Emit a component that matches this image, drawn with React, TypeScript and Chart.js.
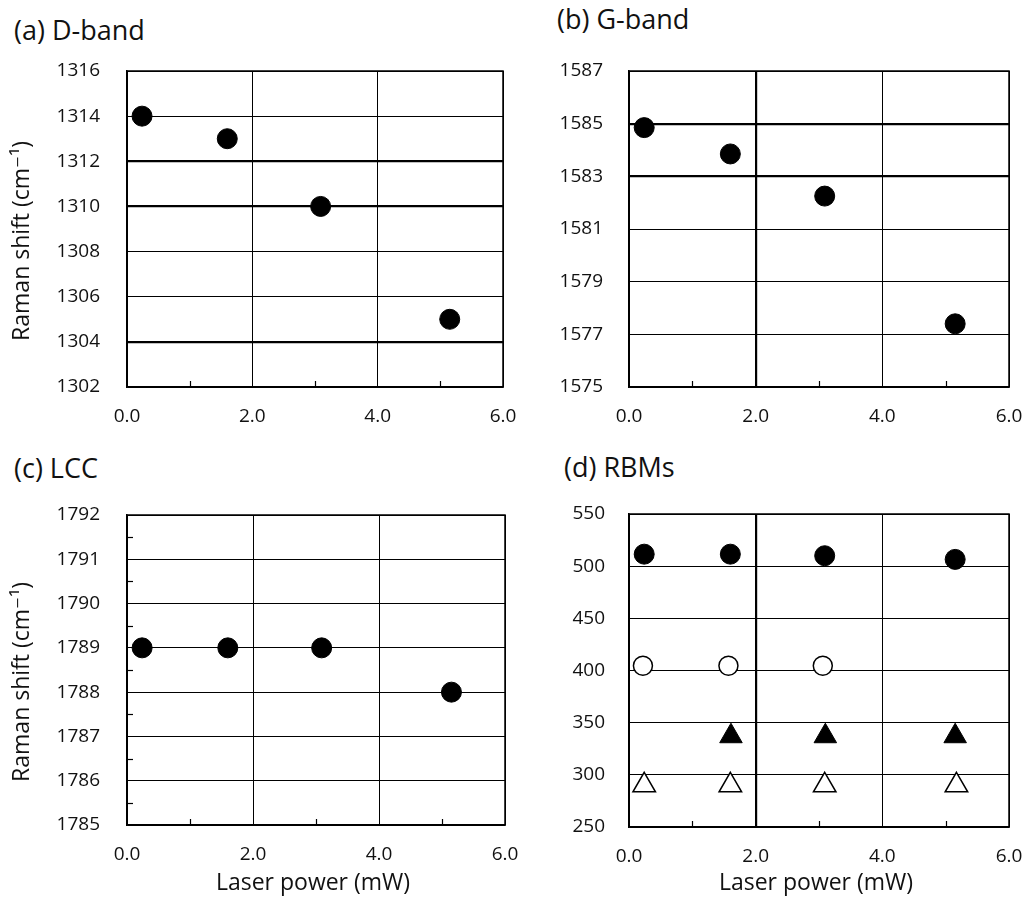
import React, { useEffect, useRef } from "react";
import { Chart, registerables } from "chart.js";

Chart.register(...registerables);

// ---------- data ----------
const laserPower = [0.24, 1.6, 3.09, 5.15];
const dBandShift = [1314, 1313, 1310, 1305];
const gBandShift = [1584.85, 1583.85, 1582.25, 1577.4];
const lccShift = [1789, 1789, 1789, 1788];

const rbmFilledCirclePower = [0.24, 1.6, 3.09, 5.15];
const rbmFilledCircle = [511.5, 511.5, 510, 506.5];
const rbmOpenCirclePower = [0.22, 1.57, 3.06];
const rbmOpenCircle = [404.5, 404.5, 404.5];
const rbmFilledTrianglePower = [1.61, 3.1, 5.15];
const rbmFilledTriangle = [337, 337, 337];
const rbmOpenTrianglePower = [0.24, 1.6, 3.09, 5.17];
const rbmOpenTriangle = [290, 290, 290, 290];

const xMinorTicks = [1, 3, 5];
const lccMinorTicks = [1785.5, 1786.5, 1787.5, 1788.5, 1789.5, 1790.5, 1791.5];

const panelTitles = ["(a) D-band", "(b) G-band", "(c) LCC", "(d) RBMs"];
const yAxisTitle = "Raman shift (cm\u207B\u00B9)\u00A0\u00A0\u00A0\u00A0";
const xAxisTitle = "Laser power (mW)\u00A0";

const FONT = "'Open Sans', 'DejaVu Sans', sans-serif";
const INK = "#111";

const pts = (xs: number[], ys: number[]) => ys.map((y, i) => ({ x: xs[i], y }));

const framePlugin = {
  id: "frame",
  afterDraw(chart: any, _args: any, opts: any) {
    const { ctx, chartArea } = chart;
    const { left, right, top, bottom } = chartArea;
    ctx.save();
    ctx.strokeStyle = "#000";
    ctx.lineWidth = 1.5;
    ctx.strokeRect(left, top, right - left, bottom - top);
    ctx.lineWidth = 1.2;
    const xs = chart.scales.x;
    const ys = chart.scales.y;
    (opts.minorX || []).forEach((v: number) => {
      const px = Math.round(xs.getPixelForValue(v)) + 0.5;
      ctx.beginPath();
      ctx.moveTo(px, bottom);
      ctx.lineTo(px, bottom - 6);
      ctx.stroke();
    });
    (opts.minorY || []).forEach((v: number) => {
      const py = Math.round(ys.getPixelForValue(v)) + 0.5;
      ctx.beginPath();
      ctx.moveTo(left, py);
      ctx.lineTo(left + 6, py);
      ctx.stroke();
    });
    ctx.restore();
  },
};

type PanelCfg = {
  datasets: any[];
  yMin: number;
  yMax: number;
  yStep: number;
  yWidth: number;
  yPad: number;
  yTitle?: string;
  xTitle?: string;
  xHeight: number;
  padding: { left: number; top: number; right: number; bottom: number };
  thickX: number[];
  thickY: number[];
  minorY?: number[];
};

function buildConfig(c: PanelCfg): any {
  return {
    type: "scatter",
    data: { datasets: c.datasets },
    plugins: [framePlugin],
    options: {
      responsive: false,
      animation: false,
      events: [],
      layout: { padding: c.padding },
      plugins: {
        legend: { display: false },
        tooltip: { enabled: false },
        frame: { minorX: xMinorTicks, minorY: c.minorY || [] },
      },
      scales: {
        x: {
          type: "linear",
          min: 0,
          max: 6,
          afterFit: (s: any) => {
            s.height = c.xHeight;
          },
          ticks: {
            stepSize: 2,
            autoSkip: false,
            maxRotation: 0,
            padding: 0,
            color: INK,
            font: { family: FONT, size: 19 },
            callback: (v: any) => Number(v).toFixed(1),
          },
          grid: {
            color: "#000",
            drawTicks: true,
            tickLength: 18,
            tickColor: "rgba(0,0,0,0)",
            lineWidth: (ctx: any) => (ctx.tick && c.thickX.includes(ctx.tick.value) ? 2.2 : 1),
          },
          border: { display: true, color: "#000", width: 1.5 },
          title: c.xTitle
            ? {
                display: true,
                text: c.xTitle,
                color: INK,
                font: { family: FONT, size: 23 },
                padding: { top: 0, bottom: 0 },
              }
            : { display: false },
        },
        y: {
          type: "linear",
          min: c.yMin,
          max: c.yMax,
          afterFit: (s: any) => {
            s.width = c.yWidth;
          },
          ticks: {
            stepSize: c.yStep,
            autoSkip: false,
            padding: 0,
            color: INK,
            font: { family: FONT, size: 19 },
            callback: (v: any) => String(v),
          },
          grid: {
            color: "#000",
            drawTicks: true,
            tickLength: c.yPad,
            tickColor: "rgba(0,0,0,0)",
            lineWidth: (ctx: any) => (ctx.tick && c.thickY.includes(ctx.tick.value) ? 2.2 : 1),
          },
          border: { display: true, color: "#000", width: 1.5 },
          title: c.yTitle
            ? {
                display: true,
                text: c.yTitle,
                color: INK,
                font: { family: FONT, size: 23 },
                padding: { top: 9, bottom: 0 },
              }
            : { display: false },
        },
      },
    },
  };
}

const filledCircle = { pointStyle: "circle", pointRadius: 10, backgroundColor: "#000", borderColor: "#000", borderWidth: 1 };
const openCircle = { pointStyle: "circle", pointRadius: 9.5, backgroundColor: "#fff", borderColor: "#000", borderWidth: 1.5 };
const filledTriangle = { pointStyle: "triangle", pointRadius: 13, backgroundColor: "#000", borderColor: "#000", borderWidth: 1 };
const openTriangle = { pointStyle: "triangle", pointRadius: 13, backgroundColor: "#fff", borderColor: "#000", borderWidth: 1.5 };

export default function App() {
  const refA = useRef<HTMLCanvasElement>(null);
  const refB = useRef<HTMLCanvasElement>(null);
  const refC = useRef<HTMLCanvasElement>(null);
  const refD = useRef<HTMLCanvasElement>(null);

  useEffect(() => {
    const charts: Chart[] = [];
    charts.push(
      new Chart(
        refA.current!,
        buildConfig({
          datasets: [{ data: pts(laserPower, dBandShift), ...filledCircle }],
          yMin: 1302,
          yMax: 1316,
          yStep: 2,
          yWidth: 127,
          yPad: 27,
          yTitle: yAxisTitle,
          xHeight: 53,
          padding: { left: 0, top: 21, right: 17, bottom: 0 },
          thickX: [],
          thickY: [1312, 1310, 1304],
        })
      )
    );
    charts.push(
      new Chart(
        refB.current!,
        buildConfig({
          datasets: [{ data: pts(laserPower, gBandShift), ...filledCircle }],
          yMin: 1575,
          yMax: 1587,
          yStep: 2,
          yWidth: 109,
          yPad: 26,
          xHeight: 53,
          padding: { left: 0, top: 21, right: 17, bottom: 0 },
          thickX: [2],
          thickY: [1585, 1583],
        })
      )
    );
    charts.push(
      new Chart(
        refC.current!,
        buildConfig({
          datasets: [{ data: pts(laserPower, lccShift), ...filledCircle }],
          yMin: 1785,
          yMax: 1792,
          yStep: 1,
          yWidth: 127,
          yPad: 27,
          yTitle: yAxisTitle,
          xTitle: xAxisTitle,
          xHeight: 72,
          padding: { left: 0, top: 35, right: 15, bottom: 0 },
          thickX: [],
          thickY: [],
          minorY: lccMinorTicks,
        })
      )
    );
    charts.push(
      new Chart(
        refD.current!,
        buildConfig({
          datasets: [
            { data: pts(rbmFilledCirclePower, rbmFilledCircle), ...filledCircle },
            { data: pts(rbmOpenCirclePower, rbmOpenCircle), ...openCircle },
            { data: pts(rbmFilledTrianglePower, rbmFilledTriangle), ...filledTriangle },
            { data: pts(rbmOpenTrianglePower, rbmOpenTriangle), ...openTriangle },
          ],
          yMin: 250,
          yMax: 550,
          yStep: 50,
          yWidth: 109,
          yPad: 24,
          xTitle: xAxisTitle,
          xHeight: 70,
          padding: { left: 0, top: 34, right: 17, bottom: 0 },
          thickX: [2],
          thickY: [],
        })
      )
    );
    return () => charts.forEach((ch) => ch.destroy());
  }, []);

  const titleStyle = (left: number, top: number): React.CSSProperties => ({
    position: "absolute",
    left,
    top,
    fontFamily: FONT,
    fontSize: 27,
    lineHeight: "27px",
    color: INK,
    whiteSpace: "nowrap",
  });
  const canvasStyle = (left: number, top: number): React.CSSProperties => ({
    position: "absolute",
    left,
    top,
    display: "block",
  });

  return (
    <div style={{ position: "absolute", left: 0, top: 0, width: 1026, height: 897, background: "#fff", overflow: "hidden" }}>
      <div style={titleStyle(14, 16)}>{panelTitles[0]}</div>
      <div style={titleStyle(557, 5)}>{panelTitles[1]}</div>
      <div style={titleStyle(14, 454)}>{panelTitles[2]}</div>
      <div style={titleStyle(564, 453)}>{panelTitles[3]}</div>
      <canvas ref={refA} width={520} height={390} style={canvasStyle(0, 50)} />
      <canvas ref={refB} width={506} height={390} style={canvasStyle(520, 50)} />
      <canvas ref={refC} width={520} height={417} style={canvasStyle(0, 480)} />
      <canvas ref={refD} width={506} height={417} style={canvasStyle(520, 480)} />
    </div>
  );
}
